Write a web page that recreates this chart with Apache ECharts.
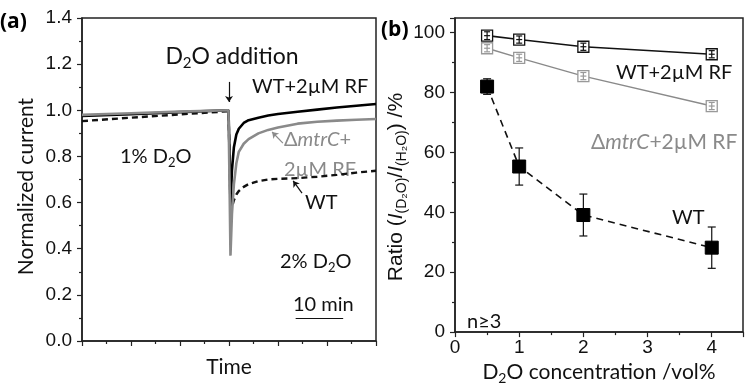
<!DOCTYPE html>
<html>
<head>
<meta charset="utf-8">
<script src="https://cdn.jsdelivr.net/npm/echarts@6/dist/echarts.min.js"></script>
<style>
  html, body { margin: 0; padding: 0; background: #fff; }
  #chart { width: 746px; height: 390px; }
</style>
</head>
<body>
<div id="chart"></div>
<script>
// (a) normalized current vs time (min), D2O added at t = 30
const time          = [0, 10, 20, 29.9, 30.15, 30.3, 30.6, 31, 31.5, 32, 33, 34, 36, 38, 40, 44, 48, 52, 56, 60];
const wtRfCurrent   = [0.975, 0.983, 0.992, 1.0, 0.78, 0.58, 0.74, 0.84, 0.895, 0.92, 0.945, 0.957, 0.968, 0.977, 0.984, 0.994, 1.003, 1.012, 1.020, 1.027];
const mtrcRfCurrent = [0.980, 0.987, 0.994, 1.0, 0.62, 0.37, 0.55, 0.68, 0.77, 0.82, 0.855, 0.875, 0.90, 0.915, 0.925, 0.942, 0.950, 0.955, 0.959, 0.962];
const wtCurrent     = [0.953, 0.968, 0.982, 0.996, 0.76, 0.55, 0.58, 0.61, 0.635, 0.65, 0.668, 0.68, 0.693, 0.70, 0.703, 0.706, 0.712, 0.720, 0.730, 0.738];

// (b) ratio I(D2O)/I(H2O) in % vs D2O concentration (vol%)
const conc       = [0.5, 1, 2, 4];
const wtRfRatio  = [99.0, 97.7, 95.3, 92.8];
const wtRfErr    = [1.3, 1.2, 1.2, 1.2];
const mtrcRatio  = [94.8, 91.6, 85.5, 75.5];
const mtrcErr    = [1.2, 1.2, 1.2, 1.2];
const wtRatio    = [82.0, 55.3, 39.1, 28.2];
const wtErr      = [2.6, 6.2, 7.0, 6.9];

const GRAY = '#8a8a8a';
const TICK_FONT = 'Liberation Sans';
const TXT_FONT = 'Lato';

const pairs = (xs, ys) => xs.map((x, i) => [x, ys[i]]);
const triples = (xs, ys, es) => xs.map((x, i) => [x, ys[i], es[i]]);

// error bar: vertical line + caps (+ centre line for open squares)
const errorBar = (capHalf, color, centre) => (params, api) => {
  const x = api.value(0), y = api.value(1), e = api.value(2);
  const hi = api.coord([x, y + e]);
  const lo = api.coord([x, y - e]);
  const mid = api.coord([x, y]);
  const st = { stroke: color, lineWidth: 1.2 };
  const kids = [
    { type: 'line', shape: { x1: hi[0], y1: hi[1], x2: lo[0], y2: lo[1] }, style: st },
    { type: 'line', shape: { x1: hi[0] - capHalf, y1: hi[1], x2: hi[0] + capHalf, y2: hi[1] }, style: st },
    { type: 'line', shape: { x1: lo[0] - capHalf, y1: lo[1], x2: lo[0] + capHalf, y2: lo[1] }, style: st }
  ];
  if (centre) {
    kids.push({ type: 'line', shape: { x1: mid[0] - capHalf, y1: mid[1], x2: mid[0] + capHalf, y2: mid[1] }, style: st });
  }
  return { type: 'group', children: kids };
};

const axisCommon = {
  axisLine: { lineStyle: { color: '#222', width: 1.5 } },
  axisTick: { inside: false, length: 5, lineStyle: { color: '#222', width: 1.2 } },
  minorTick: { show: true, splitNumber: 2, length: 3, lineStyle: { color: '#222', width: 1.2 } },
  splitLine: { show: false },
  axisLabel: { color: '#111', fontFamily: TICK_FONT, fontSize: 19 }
};

const richBase = (color, size) => {
  size = size || 20;
  return {
    n: { fontSize: size, lineHeight: size + 4, verticalAlign: 'middle', fontFamily: TXT_FONT, color: color },
    s: { fontSize: Math.round(size * 0.65), lineHeight: Math.round(size * 0.65), verticalAlign: 'bottom', fontFamily: TXT_FONT, color: color },
    i: { fontSize: size, lineHeight: size + 4, verticalAlign: 'middle', fontFamily: TXT_FONT, fontStyle: 'italic', color: color }
  };
};
const txt = (x, y, text, color, size, align) => ({
  type: 'text', x: x, y: y,
  style: {
    text: text, fill: color, align: align || 'left', verticalAlign: 'middle',
    font: (size || 20) + 'px ' + TXT_FONT,
    rich: richBase(color, size)
  }
});
const panelTag = (x, y, text) => ({
  type: 'text', x: x, y: y,
  style: {
    text: text, fill: '#000', verticalAlign: 'middle',
    fontFamily: 'Open Sans', fontWeight: 'bold', fontSize: 21
  }
});

const chart = echarts.init(document.getElementById('chart'));

const option = {
  animation: false,
  backgroundColor: '#fff',
  grid: [
    { left: 82, top: 18, width: 294, height: 323, show: true, borderColor: '#222', borderWidth: 1.5, backgroundColor: 'transparent' },
    { left: 455, top: 18, width: 293, height: 322, show: true, borderColor: '#222', borderWidth: 1.5, backgroundColor: 'transparent' }
  ],
  xAxis: [
    Object.assign({}, axisCommon, {
      gridIndex: 0, type: 'value', min: 0, max: 60, interval: 10,
      axisLabel: { show: false },
      name: 'Time', nameLocation: 'middle', nameGap: 16,
      nameTextStyle: { fontFamily: TXT_FONT, fontSize: 21, color: '#111' }
    }),
    Object.assign({}, axisCommon, {
      gridIndex: 1, type: 'value', min: 0, max: 4.487, interval: 1,
      axisLabel: Object.assign({}, axisCommon.axisLabel, {
        margin: 6,
        formatter: v => (Number.isInteger(v) ? String(v) : '')
      }),
      name: '{n|D}{s|2}{n|O concentration /vol%}', nameLocation: 'middle', nameGap: 21,
      nameTextStyle: { rich: richBase('#111', 21) }
    })
  ],
  yAxis: [
    Object.assign({}, axisCommon, {
      gridIndex: 0, type: 'value', min: 0, max: 1.4, interval: 0.2,
      axisLabel: Object.assign({}, axisCommon.axisLabel, { margin: 10, formatter: v => v.toFixed(1) }),
      name: 'Normalized current', nameLocation: 'middle', nameGap: 45,
      nameTextStyle: { fontFamily: TXT_FONT, fontSize: 21, color: '#111', padding: [0, 14, 0, 0] }
    }),
    Object.assign({}, axisCommon, {
      gridIndex: 1, type: 'value', min: 0, max: 104.9, interval: 20,
      axisLabel: Object.assign({}, axisCommon.axisLabel, {
        margin: 10,
        formatter: v => (v % 20 === 0 ? String(v) : '')
      }),
      name: '{t|Ratio (}{i|I}{s|(D₂O)}{t|/}{i|I}{s|(H₂O)}{t|) /%}', nameLocation: 'middle', nameGap: 40,
      nameTextStyle: {
        padding: [0, 24, 0, 0],
        rich: {
          t: { fontSize: 21, lineHeight: 26, verticalAlign: 'middle', fontFamily: TICK_FONT, color: '#111' },
          i: { fontSize: 21, lineHeight: 26, verticalAlign: 'middle', fontFamily: TICK_FONT, fontStyle: 'italic', color: '#111' },
          s: { fontSize: 14, lineHeight: 14, verticalAlign: 'bottom', fontFamily: TICK_FONT, color: '#111' }
        }
      }
    })
  ],
  series: [
    // ---- panel (a)
    {
      name: 'WT', type: 'line', xAxisIndex: 0, yAxisIndex: 0, symbol: 'none', z: 2,
      data: pairs(time, wtCurrent),
      lineStyle: { color: '#111', width: 2.4, type: [6, 4] },
      markLine: {
        silent: true, symbol: ['none', 'arrow'], symbolSize: 6, label: { show: false },
        lineStyle: { color: '#111', width: 1.2, type: 'solid' },
        data: [
          [{ coord: [30, 1.123] }, { coord: [30, 1.036] }],
          [{ coord: [44.9, 0.641] }, { coord: [43.1, 0.694] }],
          [{ coord: [43.6, 0.1], symbol: 'none' }, { coord: [53.3, 0.1], symbol: 'none' }]
        ]
      }
    },
    {
      name: 'WT+2µM RF', type: 'line', xAxisIndex: 0, yAxisIndex: 0, symbol: 'none', z: 3,
      data: pairs(time, wtRfCurrent),
      lineStyle: { color: '#000', width: 2.6 }
    },
    {
      name: 'ΔmtrC+2µM RF', type: 'line', xAxisIndex: 0, yAxisIndex: 0, symbol: 'none', z: 4,
      data: pairs(time, mtrcRfCurrent),
      lineStyle: { color: GRAY, width: 2.6 },
      markLine: {
        silent: true, symbol: ['none', 'arrow'], symbolSize: 6, label: { show: false },
        lineStyle: { color: GRAY, width: 1.2, type: 'solid' },
        data: [[{ coord: [41.0, 0.858] }, { coord: [38.8, 0.906] }]]
      }
    },
    // ---- panel (b)
    {
      type: 'line', xAxisIndex: 1, yAxisIndex: 1, z: 3,
      data: pairs(conc, wtRfRatio),
      symbol: 'rect', symbolSize: 11,
      itemStyle: { color: '#fff', borderColor: '#111', borderWidth: 1.3 },
      lineStyle: { color: '#111', width: 1.6 }
    },
    {
      type: 'line', xAxisIndex: 1, yAxisIndex: 1, z: 3,
      data: pairs(conc, mtrcRatio),
      symbol: 'rect', symbolSize: 11,
      itemStyle: { color: '#fff', borderColor: '#999', borderWidth: 1.3 },
      lineStyle: { color: GRAY, width: 1.4 }
    },
    {
      type: 'line', xAxisIndex: 1, yAxisIndex: 1, z: 3,
      data: pairs(conc, wtRatio),
      symbol: 'rect', symbolSize: 13,
      itemStyle: { color: '#000', borderColor: '#000' },
      lineStyle: { color: '#111', width: 1.6, type: [7, 5] }
    },
    {
      type: 'custom', xAxisIndex: 1, yAxisIndex: 1, z: 5,
      renderItem: errorBar(3, '#111', true),
      data: triples(conc, wtRfRatio, wtRfErr)
    },
    {
      type: 'custom', xAxisIndex: 1, yAxisIndex: 1, z: 5,
      renderItem: errorBar(3, '#999', true),
      data: triples(conc, mtrcRatio, mtrcErr)
    },
    {
      type: 'custom', xAxisIndex: 1, yAxisIndex: 1, z: 2,
      renderItem: errorBar(4, '#111', false),
      data: triples(conc, wtRatio, wtErr)
    }
  ],
  graphic: [
    panelTag(0, 22, '(a)'),
    panelTag(381, 30, '(b)'),
    txt(232, 57, '{n|D}{s|2}{n|O addition}', '#111', 23, 'center'),
    txt(252, 87, '{n|WT+2µM RF}', '#111', 20),
    txt(284, 140, '{n|Δ}{i|mtrC}{n|+}', GRAY, 20),
    txt(284, 170, '{n|2µM RF}', GRAY, 20),
    txt(120, 157, '{n|1% D}{s|2}{n|O}', '#111', 20),
    txt(305, 203, '{n|WT}', '#111', 20),
    txt(280, 262, '{n|2% D}{s|2}{n|O}', '#111', 20),
    txt(293, 305, '{n|10 min}', '#111', 20),
    txt(616, 73, '{n|WT+2µM RF}', '#111', 20),
    txt(591, 142, '{n|Δ}{i|mtrC}{n|+2µM RF}', GRAY, 21),
    txt(672, 218, '{n|WT}', '#111', 20),
    txt(467, 322, '{n|n≥3}', '#111', 20)
  ]
};

chart.setOption(option);
</script>
</body>
</html>
